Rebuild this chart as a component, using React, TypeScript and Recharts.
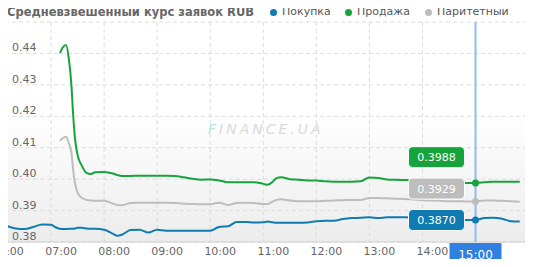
import React from "react";
import {
  LineChart,
  Line,
  XAxis,
  YAxis,
  CartesianGrid,
  ReferenceLine,
  ReferenceDot,
} from "recharts";

const times = [
  "06:10", "06:20", "06:30", "06:40", "06:50",
  "07:00", "07:05", "07:10", "07:13", "07:17", "07:20", "07:23", "07:25", "07:27", "07:30", "07:35", "07:40", "07:45", "07:50",
  "08:00", "08:10", "08:15", "08:20", "08:30", "08:40", "08:50",
  "09:00", "09:10", "09:20", "09:30", "09:40", "09:50",
  "10:00", "10:10", "10:20", "10:30", "10:40", "10:50",
  "11:00", "11:05", "11:10", "11:15", "11:20", "11:30", "11:40", "11:50",
  "12:00", "12:10", "12:20", "12:30", "12:40", "12:50",
  "13:00", "13:10", "13:20", "13:30", "13:40", "13:50",
  "14:00", "14:10", "14:20", "14:30", "14:40", "14:50",
  "15:00", "15:10", "15:20", "15:30", "15:40", "15:50",
];

const buyRates = [
  0.3851, 0.3843, 0.3841, 0.3848, 0.3856,
  0.3855, 0.3847, 0.3842, 0.3841, 0.3841, 0.3842, 0.3842, 0.3842, 0.3843, 0.3845, 0.3845, 0.3843, 0.3842, 0.3842,
  0.3839, 0.3826, 0.382, 0.3823, 0.3838, 0.3839, 0.383,
  0.3839, 0.3836, 0.3836, 0.3836, 0.3836, 0.3836,
  0.3836, 0.3848, 0.385, 0.3864, 0.3864, 0.3862,
  0.3863, 0.3865, 0.3863, 0.3861, 0.3861, 0.3861, 0.3861, 0.3862,
  0.3866, 0.3868, 0.3868, 0.3873, 0.3876, 0.3877,
  0.3879, 0.3876, 0.3879, 0.3879, 0.3879, 0.3877,
  0.3875, 0.3874, 0.3872, 0.3871, 0.387, 0.387,
  0.387, 0.3876, 0.3877, 0.3874, 0.3866, 0.3865,
];

const sellRates = [
  null, null, null, null, null,
  null, null, 0.4401, 0.4418, 0.4427, 0.4385, 0.43, 0.4204, 0.4131, 0.4077, 0.4042, 0.402, 0.4016, 0.4022,
  0.4023, 0.4018, 0.4013, 0.401, 0.401, 0.4011, 0.4011,
  0.4011, 0.4011, 0.401, 0.4006, 0.4001, 0.3998,
  0.3999, 0.3996, 0.399, 0.399, 0.399, 0.399,
  0.3985, 0.3982, 0.399, 0.4003, 0.4006, 0.4, 0.3998, 0.3996,
  0.3996, 0.3993, 0.3992, 0.3992, 0.3992, 0.3993,
  0.4005, 0.4004, 0.3999, 0.3998, 0.3997, 0.3996,
  0.3995, 0.3993, 0.3991, 0.399, 0.3989, 0.3988,
  0.3988, 0.399, 0.3992, 0.3992, 0.3992, 0.3992,
];

const parityRates = [
  null, null, null, null, null,
  null, null, 0.4122, 0.413, 0.4135, 0.4115, 0.4086, 0.4029, 0.3988, 0.3956, 0.394, 0.3934, 0.3932, 0.3931,
  0.3931, 0.3922, 0.3918, 0.3917, 0.3924, 0.3925, 0.3925,
  0.3925, 0.3925, 0.3924, 0.3922, 0.3921, 0.392,
  0.392, 0.3925, 0.3918, 0.3924, 0.3925, 0.3924,
  0.3921, 0.3921, 0.3928, 0.3934, 0.3936, 0.3932, 0.393, 0.393,
  0.393, 0.3931, 0.3932, 0.3933, 0.3934, 0.3934,
  0.394, 0.394, 0.3939, 0.3938, 0.3937, 0.3935,
  0.3933, 0.3932, 0.3931, 0.393, 0.393, 0.3929,
  0.3929, 0.3932, 0.3932, 0.3931, 0.393, 0.3928,
];

const yTicks = [0.38, 0.39, 0.4, 0.41, 0.42, 0.43, 0.44, 0.45];
const hourTicks = [6, 7, 8, 9, 10, 11, 12, 13, 14, 15];
const crossTime = "15:00";

const series = [
  { key: "buy", name: "Покупка", color: "#0f7bb0", values: buyRates },
  { key: "sell", name: "Продажа", color: "#17a33b", values: sellRates },
  { key: "parity", name: "Паритетный", color: "#bdbdbd", values: parityRates },
];
const legendWidths = [75, 80, undefined];

const FONT = '"DejaVu Sans", Verdana, sans-serif';
const X_MIN = 6;
const X_MAX = 16 + 5 / 60;

const toHours = (s: string) => {
  const [h, m] = s.split(":").map(Number);
  return h + m / 60;
};
const fmtHour = (h: number) => String(h).padStart(2, "0") + ":00";

const rows = times.map((t, i) => ({
  t: toHours(t),
  buy: buyRates[i],
  sell: sellRates[i],
  parity: parityRates[i],
}));

// tooltip boxes: stack upwards so they don't overlap
const crossIdx = times.indexOf(crossTime);
const crossH = toHours(crossTime);
const boxes = series
  .map((s) => ({ ...s, value: s.values[crossIdx] as number }))
  .sort((a, b) => a.value - b.value);
let prev = -Infinity;
const stacked = boxes.map((b) => {
  const pos = Math.max(b.value, prev + 0.01);
  prev = pos;
  return { ...b, pos };
});

const XTick = (props: any) => {
  const { x, y, payload } = props;
  if (payload.value === crossH) return <g />;
  return (
    <text x={x + 10} y={y + 13} textAnchor="middle" fontSize={11} fill="#666" fontFamily={FONT}>
      {fmtHour(payload.value)}
    </text>
  );
};

const YTick = (props: any) => {
  const { y, payload } = props;
  if (payload.value >= 0.45) return <g />;
  return (
    <text x={14} y={y - 2} fontSize={11} fill="#666" fontFamily={FONT}>
      {payload.value.toFixed(2)}
    </text>
  );
};

const boxShape = (color: string, text: string) => (p: any) => (
  <g>
    <rect x={p.cx - 67} y={p.cy - 10.5} width={56} height={21} rx={4} fill={color} stroke="#fff" strokeWidth={1} />
    <text x={p.cx - 39} y={p.cy + 4} textAnchor="middle" fontSize={11} fill="#fff" fontFamily={FONT}>
      {text}
    </text>
  </g>
);

const crossLabel = (props: any) => {
  const vb = props.viewBox || {};
  const bottom = vb.y + vb.height;
  return (
    <g>
      <rect x={vb.x - 26} y={bottom + 1} width={52} height={24} fill="#2f80e0" />
      <text x={vb.x} y={bottom + 17} textAnchor="middle" fontSize={12} fill="#fff" fontFamily={FONT}>
        {crossTime}
      </text>
    </g>
  );
};

export default function App() {
  return (
    <div
      style={{
        position: "relative",
        width: 533,
        height: 267,
        margin: -8,
        background: "#fff",
        fontFamily: FONT,
        overflow: "hidden",
      }}
    >
      {/* plot background */}
      <div
        style={{
          position: "absolute",
          left: 7,
          top: 22,
          width: 526,
          height: 220,
          background: "linear-gradient(to bottom, #ffffff 0%, #ffffff 42%, #ececec 100%)",
        }}
      />
      <div style={{ position: "absolute", left: 7, top: 0, width: 526, height: 267, overflow: "hidden" }}>
        <div style={{ position: "absolute", left: -9, top: 0 }}>
          <LineChart
            width={535}
            height={267}
            data={rows}
            margin={{ top: 22, right: 0, left: 0, bottom: 0 }}
          >
            <CartesianGrid stroke="#dcdcdc" strokeDasharray="4 3" />
            <XAxis
              dataKey="t"
              type="number"
              domain={[X_MIN, X_MAX]}
              ticks={hourTicks}
              interval={0}
              allowDataOverflow
              tick={<XTick />}
              tickLine={false}
              tickSize={0}
              tickMargin={0}
              axisLine={{ stroke: "#d0d0d0" }}
              height={25}
            />
            <YAxis
              type="number"
              domain={[0.38, 0.45]}
              ticks={yTicks}
              interval={0}
              allowDataOverflow
              mirror
              width={60}
              tick={<YTick />}
              tickLine={false}
              tickSize={0}
              tickMargin={0}
              axisLine={false}
            />
            {series.map((s) => (
              <Line
                key={s.key}
                dataKey={s.key}
                name={s.name}
                type="monotone"
                stroke={s.color}
                strokeWidth={2}
                dot={false}
                activeDot={false}
                isAnimationActive={false}
              />
            ))}
            <ReferenceLine x={crossH} stroke="#8fbcef" strokeWidth={2} label={crossLabel} />
            {stacked.map((b) => (
              <ReferenceDot
                key={"box-" + b.key}
                x={crossH}
                y={b.pos}
                r={0}
                shape={boxShape(b.color, b.value.toFixed(4))}
              />
            ))}
            {stacked.map((b) => (
              <ReferenceDot
                key={"dot-" + b.key}
                x={crossH}
                y={b.value}
                r={3.5}
                fill={b.color}
                stroke="none"
              />
            ))}
          </LineChart>
        </div>
      </div>
      <div
        style={{
          position: "absolute",
          left: 7,
          top: 5,
          fontSize: 11.5,
          fontWeight: "bold",
          color: "#666",
          lineHeight: "14px",
          whiteSpace: "nowrap",
        }}
      >
        Средневзвешенный курс заявок RUB
      </div>
      <div
        style={{
          position: "absolute",
          left: 270,
          top: 4,
          display: "flex",
          fontSize: 11,
          color: "#555",
          lineHeight: "16px",
          whiteSpace: "nowrap",
        }}
      >
        {series.map((s, i) => (
          <div key={s.key} style={{ display: "flex", alignItems: "center", width: legendWidths[i] }}>
            <span
              style={{
                display: "inline-block",
                width: 7,
                height: 7,
                borderRadius: "50%",
                background: s.color,
                marginRight: 5,
              }}
            />
            {s.name}
          </div>
        ))}
      </div>
      <div
        style={{
          position: "absolute",
          left: 208,
          top: 121,
          fontSize: 14,
          fontStyle: "italic",
          letterSpacing: 3,
          color: "#dadada",
          lineHeight: "16px",
          pointerEvents: "none",
        }}
      >
        <span style={{ color: "#b5e6dd" }}>F</span>INANCE.UA
      </div>
    </div>
  );
}
